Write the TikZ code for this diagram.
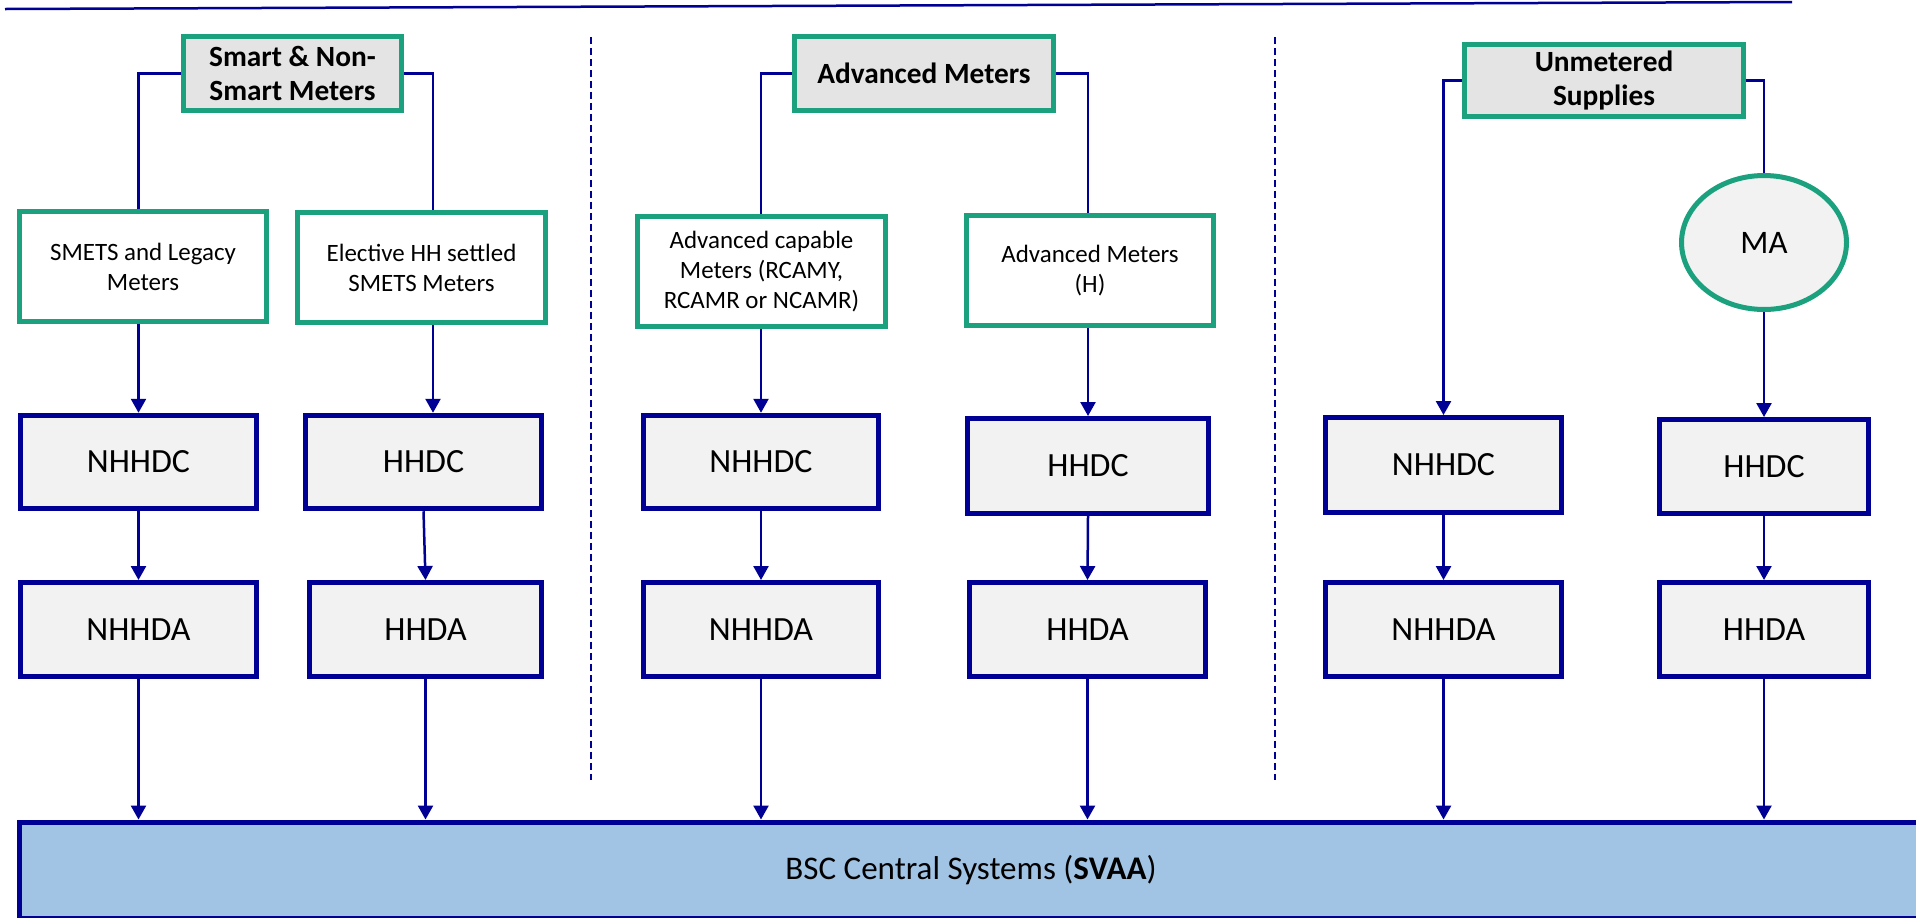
\documentclass[tikz,border=0pt]{standalone}
\usepackage{fontspec}
\setmainfont{Carlito}
\usetikzlibrary{shapes.geometric,arrows.meta}

\definecolor{navy}{RGB}{0,0,148}
\definecolor{mgreen}{RGB}{27,161,126}
\definecolor{catgray}{RGB}{228,228,228}
\definecolor{lowgray}{RGB}{242,242,242}
\definecolor{bscblue}{RGB}{161,195,228}

\begin{document}
\begin{tikzpicture}[x=0.02cm, y=-0.02cm,
	    CatBlock/.style= {
	        draw=mgreen, line width=0.1cm, fill=catgray, align=center,
	        minimum height=1.48cm, inner sep=0pt,
	        font=\fontsize{16.7}{19.8}\selectfont\bfseries},
	    MeterBlock/.style= {
	        draw=mgreen, line width=0.1cm, fill=white, align=center,
	        minimum width=4.96cm, minimum height=2.2cm, inner sep=0pt,
	        font=\fontsize{14.2}{17}\selectfont},
	    DataBlock/.style= {
	        draw=navy, line width=0.1cm, fill=lowgray,
	        minimum width=4.72cm, minimum height=1.87cm, inner sep=0pt,
	        font=\fontsize{19.3}{23}\selectfont},
	    link/.style= {draw=navy, line width=0.05cm},
	    arr/.style= {link, -{Triangle[length=0.28cm,width=0.3cm]}},
	    divider/.style= {navy, line width=0.03cm, dash pattern=on 0.14cm off 0.08cm}]

		\useasboundingbox (0,0) rectangle (1916,917);
		\clip (0,0) rectangle (1916,917);

		% Rule and dividers
		\draw[navy, line width=0.05cm] (5,9) -- (1792,2);
		\draw[divider] (591,37) -- (591,780);
		\draw[divider] (1275,37) -- (1275,780);

		% Categories
		\node [CatBlock,minimum width=4.36cm] (smart) at (292.5,73.5) {Smart \& Non-\\Smart Meters};
		\node [CatBlock,minimum width=5.18cm] (adv) at (924,73.5) {Advanced Meters};
		\node [CatBlock,minimum width=5.58cm,minimum height=1.44cm] (unmet) at (1604,80.5) {Unmetered\\Supplies};

		% Meters
		\node [MeterBlock] (smets) at (143,266.5) {SMETS and Legacy\\Meters};
		\node [MeterBlock] (elective) at (421.5,267.5) {Elective HH settled\\SMETS Meters};
		\node [MeterBlock] (advcap) at (761.5,271.5) {Advanced capable\\Meters (RCAMY,\\RCAMR or NCAMR)};
		\node [MeterBlock,minimum width=4.94cm] (advh) at (1090,270.5) {Advanced Meters\\(H)};
		\node [ellipse,draw=mgreen,line width=0.1cm,fill=lowgray,inner sep=0pt,
		       minimum width=3.3cm,minimum height=2.68cm,
		       font=\fontsize{18.7}{22}\selectfont] (ma) at (1764,242.5) {MA};

		% Data collectors
		\node [DataBlock] (nhhdc1) at (138.5,462) {NHHDC};
		\node [DataBlock] (hhdc1) at (423.5,462) {HHDC};
		\node [DataBlock] (nhhdc2) at (761,462) {NHHDC};
		\node [DataBlock,minimum width=4.82cm,minimum height=1.9cm] (hhdc2) at (1088,466) {HHDC};
		\node [DataBlock,minimum height=1.9cm] (nhhdc3) at (1443.5,465) {NHHDC};
		\node [DataBlock,minimum width=4.18cm,minimum height=1.88cm] (hhdc3) at (1764,466.5) {HHDC};

		% Data aggregators
		\node [DataBlock,minimum height=1.88cm] (nhhda1) at (138.5,629.5) {NHHDA};
		\node [DataBlock,minimum width=4.64cm,minimum height=1.88cm] (hhda1) at (425.5,629.5) {HHDA};
		\node [DataBlock,minimum height=1.88cm] (nhhda2) at (761,629.5) {NHHDA};
		\node [DataBlock,minimum height=1.88cm] (hhda2) at (1087.5,629.5) {HHDA};
		\node [DataBlock,minimum height=1.88cm] (nhhda3) at (1443.5,629.5) {NHHDA};
		\node [DataBlock,minimum width=4.18cm,minimum height=1.88cm] (hhda3) at (1764,629.5) {HHDA};

		% Central systems
		\node [draw=navy,line width=0.1cm,fill=bscblue,minimum width=38.07cm,minimum height=1.92cm,
		       font=\fontsize{18.8}{22}\selectfont]
		       (bsc) at (971,870) {BSC Central Systems (\textbf{SVAA})};

		\coordinate (elx) at (433,0);

		% Branches
		\draw[link] (smart.west) -| (nhhdc1.north |- smets.north);
		\draw[link] (smart.east) -| (elx |- elective.north);
		\draw[link] (adv.west) -| (nhhdc2.north |- advcap.north);
		\draw[link] (adv.east) -| (hhdc2.north |- advh.north);
		\draw[link] (unmet.east) -| (ma.north);
		\draw[arr] (unmet.west) -| (nhhdc3.north);

		% Arrows
		\path
		    (nhhdc1.north |- smets.south) edge[arr] (nhhdc1.north)
		    (elx |- elective.south) edge[arr] (elx |- hhdc1.north)
		    (nhhdc2.north |- advcap.south) edge[arr] (nhhdc2.north)
		    (hhdc2.north |- advh.south) edge[arr] (hhdc2.north)
		    (ma.south) edge[arr] (hhdc3.north)
		    (nhhdc1.south) edge[arr] (nhhda1.north)
		    (hhdc1.south) edge[arr] (hhda1.north)
		    (nhhdc2.south) edge[arr] (nhhda2.north)
		    (hhdc2.south) edge[arr] (hhda2.north)
		    (nhhdc3.south) edge[arr] (nhhda3.north)
		    (hhdc3.south) edge[arr] (hhda3.north)
		    (nhhda1.south) edge[arr] (nhhda1.south |- bsc.north)
		    (hhda1.south) edge[arr] (hhda1.south |- bsc.north)
		    (nhhda2.south) edge[arr] (nhhda2.south |- bsc.north)
		    (hhda2.south) edge[arr] (hhda2.south |- bsc.north)
		    (nhhda3.south) edge[arr] (nhhda3.south |- bsc.north)
		    (hhda3.south) edge[arr] (hhda3.south |- bsc.north) ;

	\end{tikzpicture}
\end{document}
